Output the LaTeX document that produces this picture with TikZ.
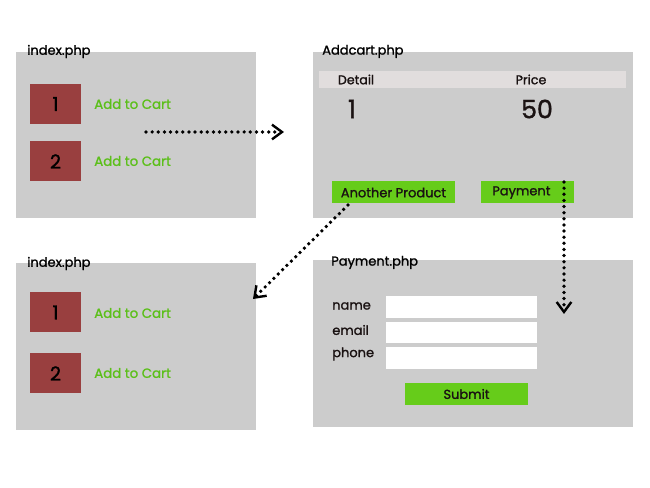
\documentclass[tikz,border=0pt]{standalone}
\usepackage{fontspec}
\setmainfont{Poppins}
\newfontfamily\medf{Poppins}[RawFeature={embolden=1.3}]
\usetikzlibrary{arrows.meta}
\definecolor{panelgray}{HTML}{CCCCCC}
\definecolor{boxred}{HTML}{993F3F}
\definecolor{cartgreen}{HTML}{5CBF1A}
\definecolor{btngreen}{HTML}{66CC1A}
\definecolor{headgray}{HTML}{E1DDDD}
\definecolor{darktext}{HTML}{1A1212}
\tikzset{
  panel/.style={fill=panelgray, draw=none, inner sep=0pt},
  ptitle/.style={anchor=west, inner sep=0pt, font=\medf\fontsize{9.75pt}{11pt}\selectfont, text=black},
  itembox/.style={fill=boxred, inner sep=0pt, minimum width=38.25pt, minimum height=30pt, font=\medf\fontsize{14.5pt}{16pt}\selectfont, text=black},
  cartlink/.style={anchor=west, inner sep=0pt, font=\medf\fontsize{10pt}{11pt}\selectfont, text=cartgreen},
  btn/.style={fill=btngreen, inner sep=0pt, minimum height=16.5pt, font=\medf\fontsize{9.75pt}{11pt}\selectfont, text=darktext},
  field/.style={fill=white, inner sep=0pt, minimum width=113.25pt, minimum height=16pt},
  flabel/.style={anchor=west, inner sep=0pt, font=\medf\fontsize{9.75pt}{11pt}\selectfont, text=darktext},
  dotarrow/.style={line width=2.8pt, line cap=round, dash pattern=on 0pt off 4.6pt,
    -{Straight Barb[length=7.5pt, width=11pt, line width=1.8pt, line cap=butt]}},
}
\begin{document}
\begin{tikzpicture}[x=0.75pt,y=-0.75pt]
\useasboundingbox (0,0) rectangle (650,488);
\fill[white] (0,0) rectangle (650,488);

% panels
\node[panel, minimum width=180pt, minimum height=124.5pt] (p1) at (136,135) {};
\node[panel, minimum width=240pt, minimum height=124.5pt] (p2) at (473,135) {};
\node[panel, minimum width=180pt, minimum height=125.25pt] (p3) at (136,346.5) {};
\node[panel, minimum width=240pt, minimum height=125.25pt] (p4) at (473,343.5) {};

% titles
\node[ptitle] (t1) at (27,51.5) {index.php};
\node[ptitle] (t2) at (322,51.5) {Addcart.php};
\node[ptitle] (t3) at (27,263.5) {index.php};
\node[ptitle] (t4) at (331,262.5) {Payment.php};

% index top
\node[itembox] (b1) at (55.5,104) {1};
\node[itembox] (b2) at (55.5,161.5) {2};
\node[cartlink] (c1) at (94,104) {Add to Cart};
\node[cartlink] (c2) at (94,161) {Add to Cart};

% index bottom
\node[itembox] (b3) at (55.5,312.5) {1};
\node[itembox] (b4) at (55.5,373.5) {2};
\node[cartlink] (c3) at (94,313) {Add to Cart};
\node[cartlink] (c4) at (94,373) {Add to Cart};

% addcart
\node[fill=headgray, inner sep=0pt, minimum width=230.25pt, minimum height=12.75pt] (hd) at (472.5,79.5) {};
\node[inner sep=0pt, font=\medf\fontsize{9.5pt}{11pt}\selectfont, text=darktext] (hdet) at (356,79.5) {Detail};
\node[inner sep=0pt, font=\medf\fontsize{9.5pt}{11pt}\selectfont, text=darktext] (hpri) at (531,79.5) {Price};
\node[inner sep=0pt, font=\medf\fontsize{19pt}{20pt}\selectfont, text=darktext] (v1) at (352,109) {1};
\node[inner sep=0pt, font=\medf\fontsize{19pt}{20pt}\selectfont, text=darktext] (v2) at (537,109) {50};
\node[btn, minimum width=92.25pt] (another) at (393.5,192.5) {Another Product};
\node[btn, minimum width=69.75pt, text width=69.75pt, align=left] (pay) at (527.5,192.5) {\hspace*{8.5pt}Payment};

% payment form
\node[flabel] (ln) at (332,306) {name};
\node[flabel] (le) at (332,330) {email};
\node[flabel] (lp) at (332,354) {phone};
\node[field] (fn) at (461.5,307) {};
\node[field] (fe) at (461.5,332.5) {};
\node[field] (fp) at (461.5,358) {};
\node[btn, minimum width=92.25pt] (submit) at (466.5,394) {Submit};

% arrows
\coordinate (a1s) at (146,132);
\coordinate (a1e) at (284,132);
\draw[dotarrow] (a1s) -- (a1e);
\coordinate (a2s) at (564,182);
\coordinate (a2e) at (564,314);
\draw[dotarrow] (a2s) -- (a2e);
\coordinate (a3s) at (348,205);
\coordinate (a3e) at (253,299);
\draw[dotarrow] (a3s) -- (a3e);
\end{tikzpicture}
\end{document}
